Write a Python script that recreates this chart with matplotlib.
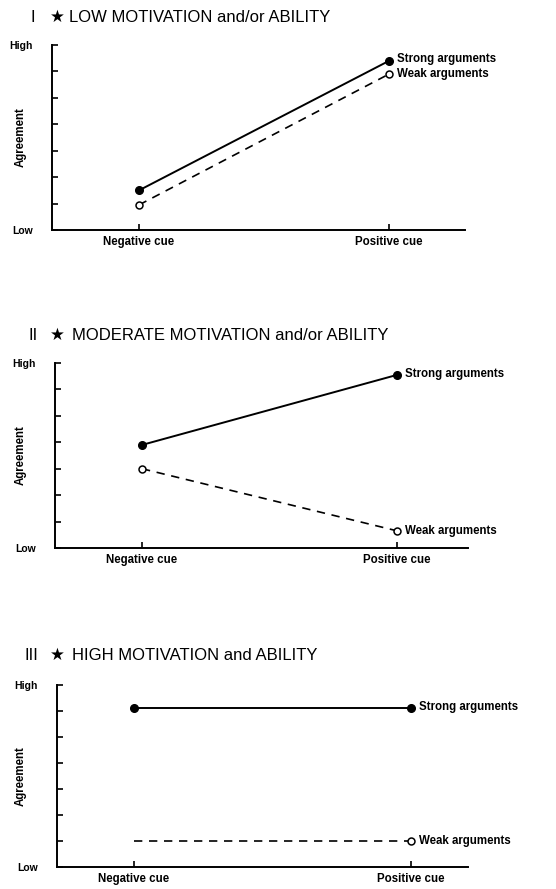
import matplotlib.pyplot as plt

plt.rcParams['font.family'] = ['Liberation Sans', 'DejaVu Sans']

cues = ['Negative cue', 'Positive cue']
level_labels = ['Low', 'High']

# agreement levels (0 = Low, 7 = High)
strong_low = [1.5, 6.4]
weak_low = [0.95, 5.9]
strong_mod = [3.9, 6.55]
weak_mod = [3.0, 0.65]
strong_high = [6.1, 6.1]
weak_high = [1.0, 1.0]

numerals = ['I', 'II', 'III']
titles = ['LOW MOTIVATION and/or ABILITY',
          'MODERATE MOTIVATION and/or ABILITY',
          'HIGH MOTIVATION and ABILITY']

W, H = 556, 889
fig = plt.figure(figsize=(W / 100, H / 100), dpi=100)

# pixel boxes: left, top, right, bottom of each axes, and cue x positions
boxes = [(52, 45, 465, 230, 139, 389),
         (55, 363, 468, 548, 142, 397),
         (57, 685, 468, 867, 134, 411)]
title_y = [17, 335, 655]
title_x = [69, 72, 72]
num_x = [31, 28, 25]

panels = [(strong_low, weak_low), (strong_mod, weak_mod), (strong_high, weak_high)]

for i, (strong, weak) in enumerate(panels):
    l, t, r, b, xn, xp = boxes[i]
    ax = fig.add_axes([l / W, 1 - b / H, (r - l) / W, (b - t) / H])
    unit = xp - xn
    ax.set_xlim((l - xn) / unit, (r - xn) / unit)
    ax.set_ylim(0, 7)

    ax.plot([0, 1], strong, color='black', lw=1.4, marker='o', ms=5.5,
            mfc='black', mec='black', clip_on=False)
    mk = [1] if i == 2 else [0, 1]
    ax.plot([0, 1], weak, color='black', lw=1.2, ls=(0, (5, 4)), marker='o',
            ms=5, mfc='white', mec='black', mew=1.1, markevery=mk, clip_on=False)

    ax.annotate('Strong arguments', (1, strong[1]), xytext=(6, 1),
                textcoords='offset points', va='center', fontsize=8.3, fontweight='bold')
    ax.annotate('Weak arguments', (1, weak[1]), xytext=(6, 0),
                textcoords='offset points', va='center', fontsize=8.3, fontweight='bold')

    for s in ['top', 'right']:
        ax.spines[s].set_visible(False)
    for s in ['left', 'bottom']:
        ax.spines[s].set_linewidth(1.4)

    ax.set_yticks(range(8))
    ax.set_yticklabels([level_labels[0]] + [''] * 6 + [level_labels[1]],
                       fontsize=7.5, fontweight='bold')
    ax.set_xticks([0, 1])
    ax.set_xticklabels(cues, fontsize=8.3, fontweight='bold')
    ax.tick_params(direction='in', length=4, width=1.2, pad=4)
    ax.tick_params(axis='y', pad=14)
    ax.set_ylabel('Agreement', fontsize=8.3, fontweight='bold')
    ax.yaxis.set_label_coords((27 - l) / (r - l), 0.5)

    ty = 1 - title_y[i] / H
    fig.text(num_x[i] / W, ty, numerals[i], fontsize=12, va='center')
    fig.text(50 / W, ty, '★', fontsize=12, va='center', family='DejaVu Sans')
    fig.text(title_x[i] / W, ty, titles[i], fontsize=12, va='center')

fig.savefig('out.png', dpi=100)
